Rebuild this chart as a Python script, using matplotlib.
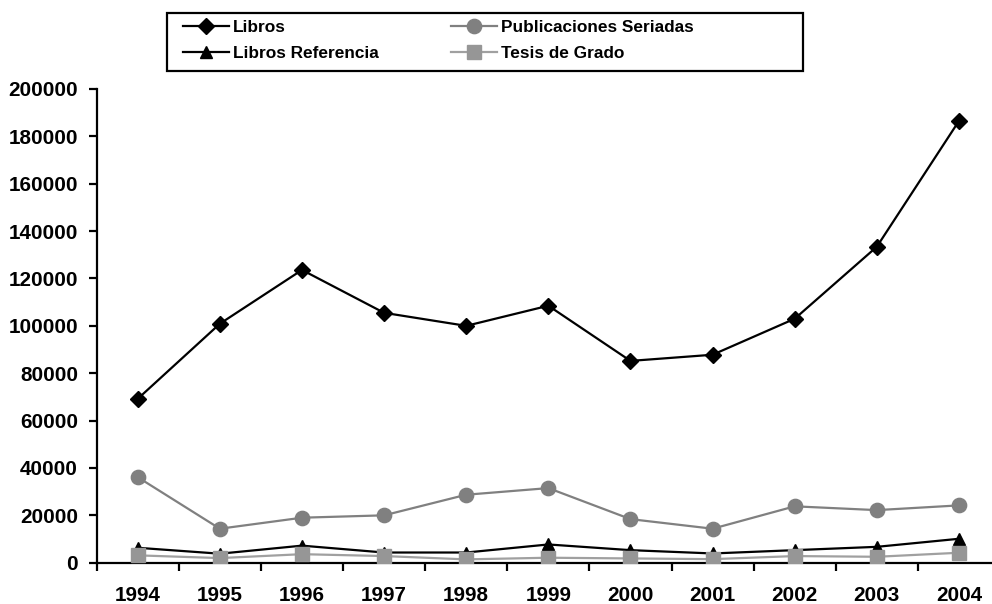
import matplotlib
matplotlib.use("Agg")
import matplotlib.pyplot as plt
from matplotlib.patches import Rectangle
import numpy as np

years = ["1994", "1995", "1996", "1997", "1998", "1999",
         "2000", "2001", "2002", "2003", "2004"]
libros = [69200, 100900, 123600, 105500, 100000, 108500,
          85200, 87800, 103000, 133400, 186500]
publicaciones = [36100, 14350, 19000, 20000, 28700, 31500,
                 18400, 14350, 23800, 22200, 24200]
libros_ref = [6300, 3800, 7200, 4300, 4300, 7700,
              5300, 3900, 5300, 6700, 10100]
tesis = [3100, 1950, 3600, 2800, 1400, 2100,
         1800, 1500, 2800, 2500, 4200]

plt.rcParams['font.family'] = ['Liberation Sans', 'DejaVu Sans']
plt.rcParams['font.weight'] = 'bold'

W, H = 992, 604
fig = plt.figure(figsize=(W / 100, H / 100), dpi=100)
ax = fig.add_axes([96.7 / W, 1 - 562.7 / H, (1000 - 96.7) / W, (562.7 - 89) / H])

x = np.arange(len(years))
l1, = ax.plot(x, libros, color='black', lw=1.6, marker='D', ms=7.8,
              label='Libros', zorder=4)
l2, = ax.plot(x, publicaciones, color='#808080', lw=1.6, marker='o', ms=10.3,
              label='Publicaciones Seriadas', zorder=3)
l3, = ax.plot(x, libros_ref, color='black', lw=1.6, marker='^', ms=8.8,
              label='Libros Referencia', zorder=5)
l4, = ax.plot(x, tesis, color='#a0a0a0', lw=1.6, marker='s', ms=10,
              mfc='#969696', mec='#969696', label='Tesis de Grado', zorder=6)

ax.set_xlim(-0.5, len(years) - 0.5)
ax.set_ylim(0, 200000)
ax.set_yticks(np.arange(0, 200001, 20000))
ax.set_xticks(x)
ax.set_xticklabels(years)
ax.set_xticks(np.arange(-0.5, len(years), 1.0), minor=True)
ax.tick_params(axis='x', which='major', length=0, pad=17, labelsize=14.9)
ax.tick_params(axis='x', which='minor', length=6, width=1.6, direction='out')
ax.tick_params(axis='y', length=6, width=1.6, direction='out', pad=7.5, labelsize=14.9)
for lab in ax.get_xticklabels() + ax.get_yticklabels():
    lab.set_fontweight('bold')

for s in ['top', 'right']:
    ax.spines[s].set_visible(False)
for s in ['left', 'bottom']:
    ax.spines[s].set_linewidth(1.6)
    ax.spines[s].set_color('black')

# legend box drawn by hand so the padding matches
fig.patches.append(Rectangle((167.3 / W, 1 - 70.7 / H), (802.7 - 167.3) / W,
                             (70.7 - 12.7) / H, transform=fig.transFigure,
                             fill=False, edgecolor='black', lw=1.6))
leg = fig.legend([l1, l3, l2, l4],
                 ['Libros', 'Libros Referencia', 'Publicaciones Seriadas', 'Tesis de Grado'],
                 ncol=2, loc='upper left', bbox_to_anchor=(182.7 / W, 1 - 20 / H),
                 frameon=False, borderpad=0, borderaxespad=0,
                 handlelength=2.67, handletextpad=0.25, columnspacing=4.2,
                 labelspacing=0.62, prop={'weight': 'bold', 'size': 12.4})

fig.savefig('out.png', dpi=100)
